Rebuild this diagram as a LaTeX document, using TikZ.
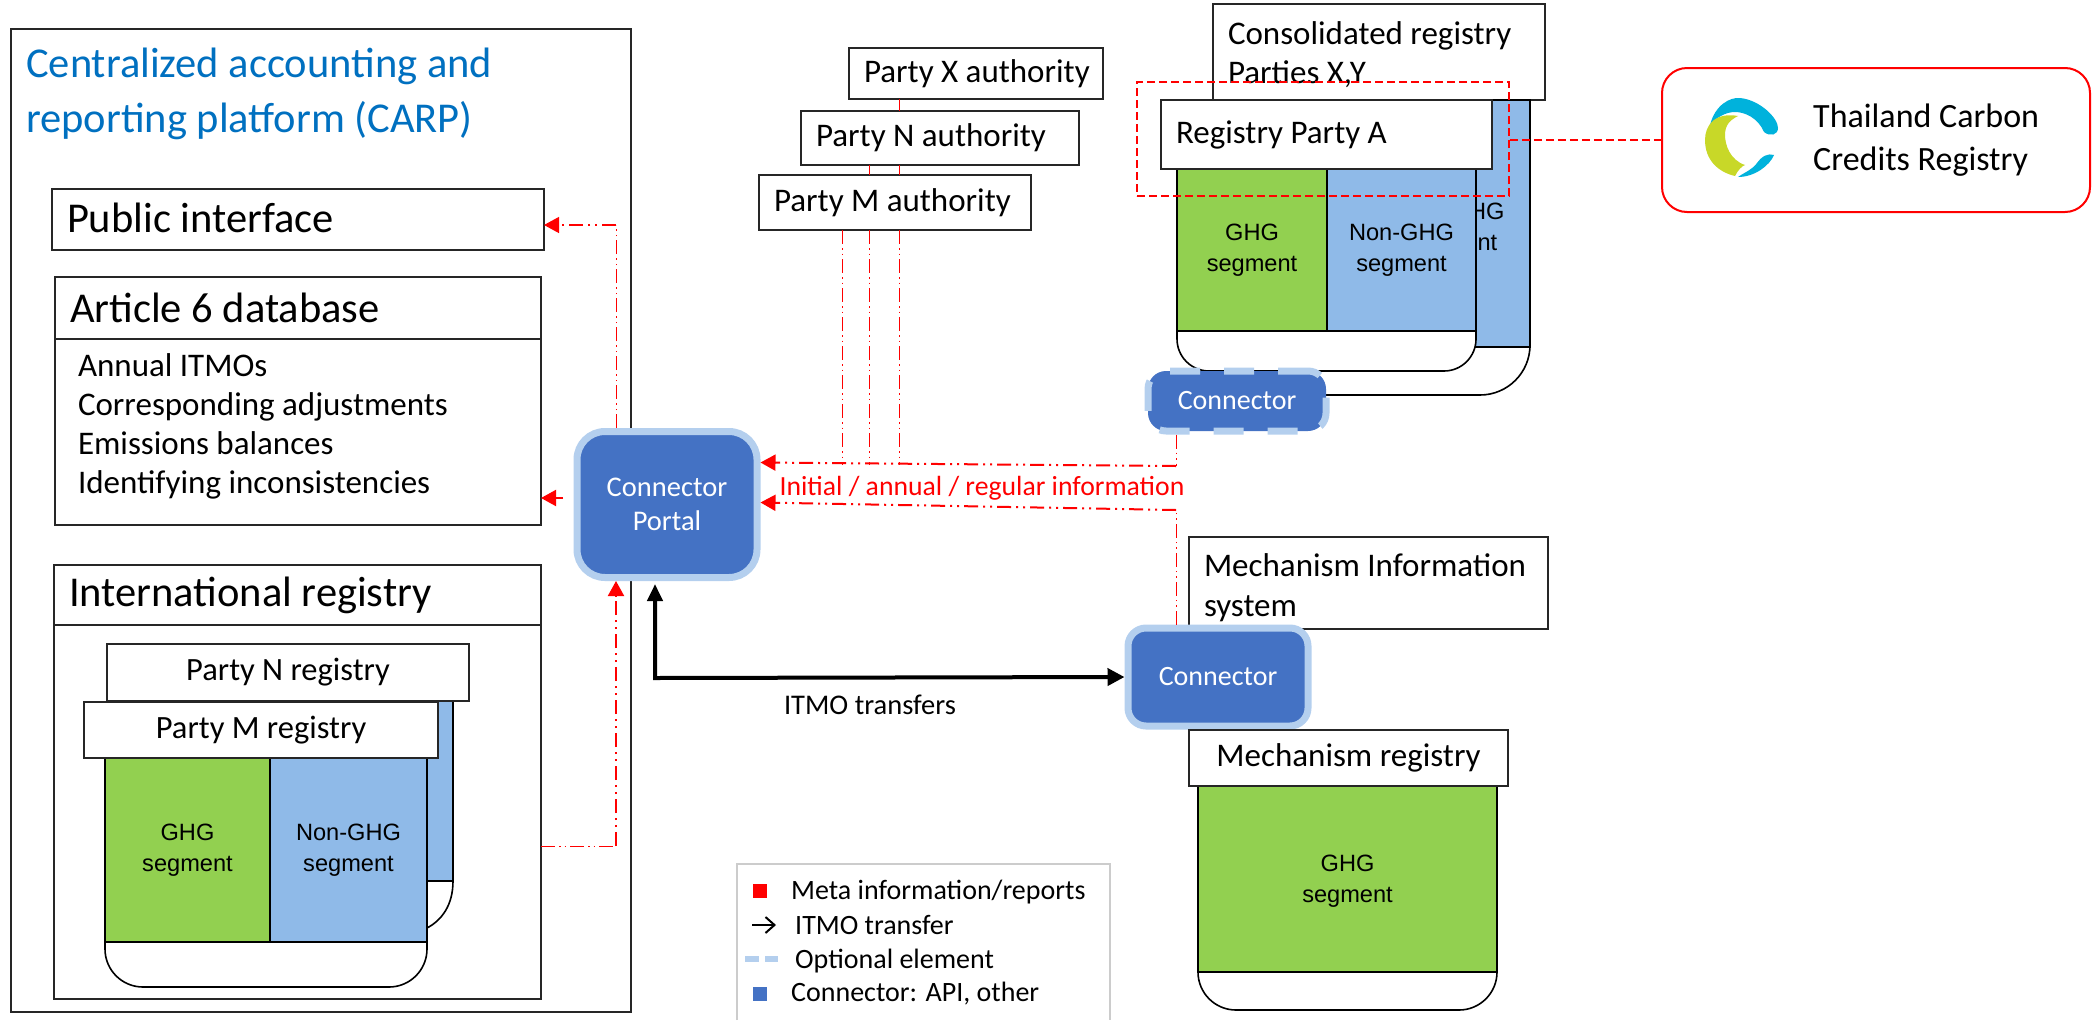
\documentclass[tikz,border=0pt]{standalone}
\usepackage{fontspec}
\setmainfont{Carlito}
\newfontfamily\arialf{Liberation Sans}
\usetikzlibrary{arrows.meta}
\definecolor{carpblue}{HTML}{0070C0}
\definecolor{conn}{HTML}{4472C4}
\definecolor{connb}{HTML}{B4CFEE}
\definecolor{ghg}{HTML}{92D050}
\definecolor{nonghg}{HTML}{8FBAE8}
\definecolor{logoc}{HTML}{00B2DC}
\definecolor{logol}{HTML}{C8D828}
\newcommand{\fs}[2]{\fontsize{#1}{#2}\selectfont}
% \tbox{name}{options}{x1}{y1}{x2}{y2}{text}
\newcommand{\tbox}[7]{%
  \pgfmathsetmacro{\bw}{#5-(#3)}\pgfmathsetmacro{\bh}{#6-(#4)}%
  \pgfmathsetmacro{\tw}{#5-(#3)-30}%
  \node[plain,minimum width=\bw pt,minimum height=\bh pt,text width=\tw pt,#2] (#1) at ({(#3+#5)/2},{(#4+#6)/2}) {#7};}
\tikzset{
  plain/.style={draw=black!85,line width=1.6pt,fill=white,inner sep=0pt,outer sep=0pt,align=flush left,inner xsep=15pt},
  ctr/.style={align=flush center},
  seg/.style={draw=black,line width=1.6pt,align=flush center,font=\arialf\fs{23.6}{31}},
  green/.style={fill=ghg},
  blue/.style={fill=nonghg},
  connbox/.style={draw=connb,line width=7pt,fill=conn,text=white,align=center,rounded corners=18pt},
  tray/.style={draw=black,line width=1.6pt,fill=white},
  metab/.style={draw=red,line width=2pt,dash pattern=on 14pt off 5pt on 2pt off 5pt on 2pt off 5pt},
  tip/.style={-{Triangle[length=15pt,width=16pt]}},
  thin/.style={draw=red,line width=.9pt,dash pattern=on 14pt off 4pt on 1.5pt off 4pt on 1.5pt off 4pt},
  legendtext/.style={inner sep=0pt,anchor=west,font=\fs{28}{32}},
}
\begin{document}
\begin{tikzpicture}[x=1pt,y=-1pt]
\useasboundingbox (0,0) rectangle (2100,1020);
% CARP
\tbox{carp}{}{11}{29}{631}{1012}{}
\node[inner sep=0pt,anchor=north west,align=left,text=carpblue,font=\fs{42.5}{55}] (carptitle) at (26,48) {Centralized accounting and\\reporting platform (CARP)};
\tbox{pub}{font=\fs{42.5}{44}}{52}{189}{544}{250}{\raisebox{4pt}{Public interface}}
\tbox{art}{font=\fs{42.5}{44}}{55}{277}{541}{339}{Article 6 database}
\tbox{artb}{font=\fs{33}{39},inner xsep=23pt,text width=440pt}{55}{339}{541}{525}{Annual ITMOs\\Corresponding adjustments\\Emissions balances\\Identifying inconsistencies\rule[-17pt]{0pt}{17pt}}
\tbox{intl}{}{54}{565}{541}{999}{}
\tbox{intlh}{font=\fs{42.5}{44}}{54}{565}{541}{625}{\raisebox{-7pt}{International registry}}
% back registry N
\tbox{nback}{blue,seg,inner xsep=0pt}{427}{701}{453}{881}{}
\coordinate (nfront) at (427,928);
\draw[tray,fill=none] (nback.south east) .. controls (453,905) and (442,920) .. (nfront);
\tbox{pn}{font=\fs{32.5}{34},ctr}{107}{644}{469}{701}{\raisebox{-2pt}{Party N registry}}
% front registry M
\draw[tray,rounded corners=38pt] (105,930) -- (105,987) -- (427,987) -- (427,930);
\tbox{mg}{seg,green}{105}{758}{270}{942}{GHG\\segment}
\tbox{mn}{seg,blue}{270}{758}{427}{942}{Non-GHG\\segment}
\tbox{pm}{font=\fs{32.5}{34},ctr}{84}{702}{438}{758}{\raisebox{-1pt}{Party M registry}}
% Authority boxes and lines
\coordinate (xfoot) at (899,465);
\coordinate (nfoot) at (869,465);
\coordinate (mfoot) at (842,465);
\tbox{px}{font=\fs{33}{34},inner xsep=12pt}{849}{48}{1103}{99}{\raisebox{-3pt}{Party X authority}}
\tbox{pnn}{font=\fs{33}{34},inner xsep=12pt}{801}{111}{1079}{165}{\raisebox{-3pt}{Party N authority}}
\tbox{pmm}{font=\fs{33}{34},inner xsep=15pt}{759}{175}{1031}{230}{\raisebox{-3pt}{Party M authority}}
\draw[thin] (px.south -| xfoot) -- (pnn.north -| xfoot);
\draw[thin] (pnn.south -| xfoot) -- (pmm.north -| xfoot);
\draw[thin] (pmm.south -| xfoot) -- (xfoot);
\draw[thin] (pnn.south -| nfoot) -- (pmm.north -| nfoot);
\draw[thin] (pmm.south -| nfoot) -- (nfoot);
\draw[thin] (pmm.south -| mfoot) -- (mfoot);
% back registry A
\tbox{cons}{font=\fs{33}{39},inner xsep=14pt}{1213}{4}{1545}{100}{\rule{0pt}{29pt}Consolidated registry\\Parties X,Y}
\draw[tray,rounded corners=50pt] (1300,395) -- (1530,395) -- (1530,320);
\node[seg,blue,minimum width=156pt,minimum height=247pt,inner sep=0pt,outer sep=0pt] (ab) at (1452,223.5) {\rule{0pt}{28pt}Non-GHG\\segment};
\draw[tray,rounded corners=32pt] (1177,330) -- (1177,371) -- (1476,371) -- (1476,330);
\tbox{ag}{seg,green}{1177}{169}{1327}{331}{GHG\\segment}
\tbox{an}{seg,blue}{1327}{169}{1476}{331}{Non-GHG\\segment}
\tbox{ra}{font=\fs{33}{34},inner xsep=13pt}{1161}{100}{1492}{169}{\raisebox{3pt}{Registry Party A}}
% Connectors
\node[connbox,minimum width=180pt,minimum height=146pt,font=\fs{28.5}{34},rounded corners=28pt] (portal) at (667,504.5) {Connector\\Portal};
\node[connbox,minimum width=178pt,minimum height=60pt,font=\fs{28}{30},dash pattern=on 30pt off 24pt] (dconn) at (1237,401) {Connector};
% Mechanism
\tbox{mis}{font=\fs{33}{40}}{1189}{537}{1548}{629}{\rule{0pt}{33pt}Mechanism Information\\system}
\node[connbox,minimum width=180pt,minimum height=98pt,font=\fs{28}{30}] (lconn) at (1218,677) {Connector};
\draw[tray,rounded corners=38pt] (1198,960) -- (1198,1010) -- (1497,1010) -- (1497,960);
\tbox{mgr}{seg,green}{1198}{786}{1497}{972}{\rule{0pt}{21pt}GHG\\segment}
\tbox{mr}{font=\fs{33}{34},ctr}{1189}{730}{1508}{786}{\raisebox{-4pt}{Mechanism registry}}
% Red connectors
\coordinate (b1) at (1176,466);
\coordinate (b2) at (1176,510);
\coordinate (a6) at (563,498);
\coordinate (pubbend) at (616,225);
\coordinate (ibend) at (616,846);
\draw[thin] ([xshift=-61pt]dconn.south) -- (b1);
\draw[metab,tip] (b1) -- ([yshift=42pt]portal.east);
\draw[thin] ([xshift=-42pt]lconn.north) -- (b2);
\draw[metab,tip] (b2) -- ([yshift=2pt]portal.east);
\node[inner sep=0pt,text=red,font=\fs{27.7}{30}] (info) at (982,488) {Initial / annual / regular information};
\draw[metab,tip] (a6) -- (artb.east |- a6);
\draw[thin] ([xshift=-51pt]portal.north) -- (pubbend);
\draw[metab,line width=1.3pt,tip] (pubbend) -- (pub.east |- pubbend);
\draw[thin] (intl.east |- ibend) -- (ibend);
\draw[metab,tip] (ibend) -- ([xshift=-51pt]portal.south);
% Black
\coordinate (tb) at (655,678);
\draw[line width=4pt,{Triangle[length=17pt,width=15pt]}-{Triangle[length=17pt,width=17pt]}] ([xshift=-12pt,yshift=-3pt]portal.south) -- (tb) -- (lconn.west);
\node[inner sep=0pt,font=\fs{28.5}{30}] (itmo) at (870,705) {ITMO transfers};
% Red dashed box and logo
\node[draw=red,line width=1.8pt,dash pattern=on 8pt off 4pt,minimum width=372pt,minimum height=114pt,inner sep=0pt] (rdash) at (1323,139) {};
\node[draw=red,line width=2pt,rounded corners=25pt,minimum width=428pt,minimum height=144pt,inner sep=0pt,fill=white] (logo) at (1876,140) {};
\draw[draw=red,line width=1.8pt,dash pattern=on 8pt off 4pt] ([yshift=-1pt]rdash.east) -- (logo.west);
\fill[logoc] (1710,125) .. controls (1715,105) and (1730,97) .. (1740,98) .. controls (1760,100) and (1778,118) .. (1778,128) .. controls (1778,135) and (1770,137) .. (1764,132) .. controls (1758,118) and (1745,112) .. (1735,112) .. controls (1725,112) and (1716,118) .. (1710,125);
\fill[logol] (1738,116) .. controls (1715,112) and (1705,125) .. (1705,140) .. controls (1705,160) and (1718,172) .. (1735,176) .. controls (1738,170) and (1742,166) .. (1745,165) .. controls (1730,160) and (1725,145) .. (1725,135) .. controls (1725,125) and (1730,120) .. (1738,116);
\fill[logoc] (1738,177) .. controls (1755,177) and (1770,165) .. (1774,155) .. controls (1768,153) and (1762,156) .. (1757,163) .. controls (1752,170) and (1745,172) .. (1738,177);
\node[inner sep=0pt,anchor=west,align=left,font=\fs{34}{43}] (logot) at (1813,140) {Thailand Carbon\\Credits Registry};
% Legend
\coordinate (l1) at (737,1020);
\coordinate (l2) at (737,864);
\coordinate (l3) at (1110,864);
\coordinate (l4) at (1110,1020);
\draw[black!20,line width=1.2pt] (l1) -- (l2) -- (l3) -- (l4);
\node[fill=red,minimum size=14pt,inner sep=0pt] (ls1) at (760,891) {};
\node[legendtext] (lt1) at (791,892) {Meta information/reports};
\coordinate (la) at (752,925);
\coordinate (lb) at (776,925);
\draw[line width=2pt,-{Straight Barb[length=9pt,width=16pt]}] (la) -- (lb);
\node[legendtext] (lt2) at (795,925) {ITMO transfer};
\coordinate (lc) at (745,959);
\coordinate (ld) at (778,959);
\draw[connb,line width=6pt,dash pattern=on 14pt off 6pt] (lc) -- (ld);
\node[legendtext] (lt3) at (795,961) {Optional element};
\node[fill=conn,minimum size=14pt,inner sep=0pt] (ls2) at (760,994) {};
\node[legendtext] (lt4) at (791,994) {Connector: API, other};
\end{tikzpicture}
\end{document}
